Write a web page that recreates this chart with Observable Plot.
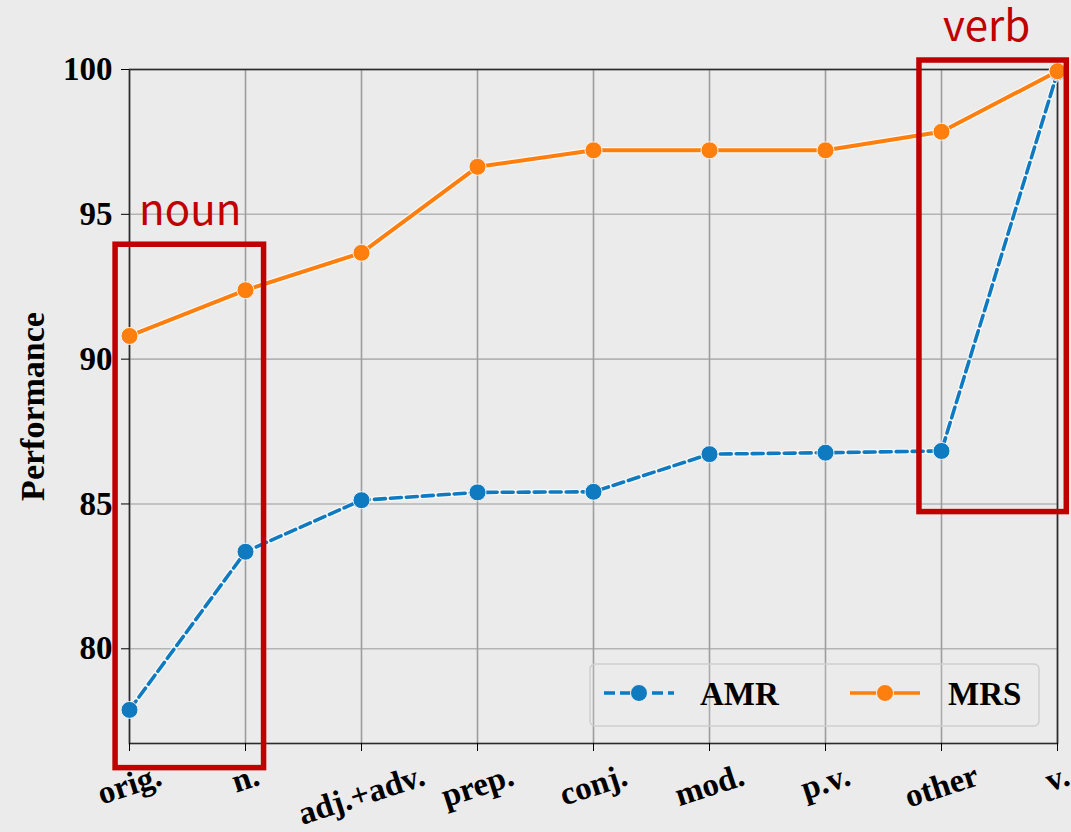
<!DOCTYPE html>
<html>
<head>
<meta charset="utf-8">
<script src="https://cdn.jsdelivr.net/npm/d3@7"></script>
<script src="https://cdn.jsdelivr.net/npm/@observablehq/plot@0.6"></script>
<style>
  html, body { margin: 0; padding: 0; background: #ebebeb; }
  #chart { width: 1071px; height: 832px; }
</style>
</head>
<body>
<div id="chart"></div>
<script>
// ---- data ----
const categories = ["orig.", "n.", "adj.+adv.", "prep.", "conj.", "mod.", "p.v.", "other", "v."];
const amrValues = [77.89, 83.35, 85.13, 85.40, 85.42, 86.72, 86.77, 86.83, 99.90];
const mrsValues = [90.80, 92.38, 93.67, 96.64, 97.21, 97.21, 97.21, 97.85, 99.94];
const yTicks = [80, 85, 90, 95, 100];
const seriesNames = ["AMR", "MRS"];
const yLabel = "Performance";
// annotation boxes (x in category-index units, y in data units)
const annoLabels = ["noun", "verb"];
const annoX1 = [-0.12, 6.81];
const annoX2 = [1.16, 8.08];
const annoTop = [93.95, 100.31];
const annoBottom = [75.88, 84.72];

// ---- build ----
const rows = categories.map((c, i) => ({cat: c, AMR: amrValues[i], MRS: mrsValues[i]}));
const colors = {AMR: "#0f7ac0", MRS: "#ff7f0e"};
const W = 1071, H = 832;
const M = {left: 129, right: 14, top: 69, bottom: 89};
const serif = "'Liberation Serif', 'Times New Roman', serif";
const tickFont = 33;
const rot = 18;

const cv = document.createElement("canvas").getContext("2d");
cv.font = `bold ${tickFont}px 'Liberation Serif'`;
const sinR = Math.sin(rot * Math.PI / 180);

const xLabelMarks = categories.map(c => {
  const w = cv.measureText(c).width;
  return Plot.text([c], {
    x: d => d, text: d => d, frameAnchor: "bottom",
    dy: 31 + w * sinR / 2, rotate: -rot,
    textAnchor: "middle", lineAnchor: "middle",
    fontSize: tickFont, fontWeight: "bold", fontFamily: serif, fill: "#000"
  });
});

const plot = Plot.plot({
  width: W, height: H,
  marginLeft: M.left, marginRight: M.right, marginTop: M.top, marginBottom: M.bottom,
  style: {background: "#ebebeb", fontFamily: serif, overflow: "visible"},
  x: {type: "point", domain: categories, padding: 0},
  y: {domain: [76.73, 100]},
  marks: [
    Plot.gridY(yTicks, {stroke: "#b4b4b4", strokeOpacity: 1, strokeWidth: 1.6}),
    Plot.gridX(categories, {stroke: "#9d9d9d", strokeOpacity: 1, strokeWidth: 1.6}),
    Plot.frame({stroke: "#2b2b2b", strokeWidth: 1.6}),
    Plot.axisY(yTicks, {tickSize: 8, tickPadding: 9, fontSize: tickFont, fontWeight: "bold", fontFamily: serif, label: null, stroke: "#000", fill: "#000"}),
    Plot.axisX(categories, {tickSize: 8, tickFormat: () => "", label: null, stroke: "#000"}),
    ...xLabelMarks,
    Plot.text([yLabel], {text: d => d, frameAnchor: "left", dx: -96, rotate: -90, textAnchor: "middle", lineAnchor: "middle", fontSize: 34, fontWeight: "bold", fontFamily: serif, fill: "#000"}),
    // AMR
    Plot.line(rows, {x: "cat", y: "AMR", stroke: "#ffffff", strokeOpacity: 0.7, strokeWidth: 6, strokeDasharray: "11,5"}),
    Plot.line(rows, {x: "cat", y: "AMR", stroke: colors.AMR, strokeWidth: 3.6, strokeDasharray: "11,5"}),
    Plot.dot(rows, {x: "cat", y: "AMR", r: 8.5, fill: colors.AMR, stroke: "#f2f2f2", strokeWidth: 1}),
    // MRS
    Plot.line(rows, {x: "cat", y: "MRS", stroke: "#ffffff", strokeOpacity: 0.7, strokeWidth: 6.5}),
    Plot.line(rows, {x: "cat", y: "MRS", stroke: colors.MRS, strokeWidth: 4}),
    Plot.dot(rows, {x: "cat", y: "MRS", r: 8.5, fill: colors.MRS, stroke: "#f2f2f2", strokeWidth: 1})
  ]
});

document.getElementById("chart").appendChild(plot);

// ---- legend & annotations (overlay) ----
const svg = d3.select(plot);
const sx = plot.scale("x"), sy = plot.scale("y");
const x0 = sx.apply(categories[0]);
const step = sx.apply(categories[1]) - x0;
const frameRight = W - M.right, frameBottom = H - M.bottom;

// Legend
const lg = svg.append("g").attr("text-anchor", "start");
const lgX1 = 590, lgX2 = frameRight - 18, lgY1 = frameBottom - 79, lgY2 = frameBottom - 17;
lg.append("rect").attr("x", lgX1).attr("y", lgY1).attr("width", lgX2 - lgX1).attr("height", lgY2 - lgY1)
  .attr("rx", 5).attr("fill", "#ebebeb").attr("fill-opacity", 0.2).attr("stroke", "#cfcfcf").attr("stroke-width", 1.5);
const ly = (lgY1 + lgY2) / 2 - 2;
const handles = [{name: "AMR", hx: 604, tx: 700, dash: "11,5"}, {name: "MRS", hx: 850, tx: 948, dash: null}];
handles.forEach(h => {
  const line = lg.append("line").attr("x1", h.hx).attr("x2", h.hx + 70).attr("y1", ly).attr("y2", ly)
    .attr("stroke", colors[h.name]).attr("stroke-width", 3.6);
  if (h.dash) line.attr("stroke-dasharray", h.dash).attr("stroke-dashoffset", 0);
  lg.append("circle").attr("cx", h.hx + 35).attr("cy", ly).attr("r", 8.5)
    .attr("fill", colors[h.name]).attr("stroke", "#f2f2f2").attr("stroke-width", 1);
  lg.append("text").attr("x", h.tx).attr("y", ly + 12).text(h.name).attr("text-anchor", "start")
    .attr("font-family", serif).attr("font-weight", "bold").attr("font-size", 33).attr("fill", "#000");
});

// Annotation boxes
const ag = svg.append("g").attr("text-anchor", "start");
annoLabels.forEach((lab, i) => {
  const left = x0 + annoX1[i] * step, right = x0 + annoX2[i] * step;
  const top = sy.apply(annoTop[i]), bottom = sy.apply(annoBottom[i]);
  ag.append("rect").attr("x", left).attr("y", top).attr("width", right - left).attr("height", bottom - top)
    .attr("fill", "none").attr("stroke", "#c00000").attr("stroke-width", 5.5);
  ag.append("text").attr("x", left + 24).attr("y", top - 19).text(lab).attr("text-anchor", "start")
    .attr("font-family", "'Noto Sans CJK SC', 'Noto Sans', sans-serif").attr("font-size", 42)
    .attr("fill", "#c00000");
});
</script>
</body>
</html>
